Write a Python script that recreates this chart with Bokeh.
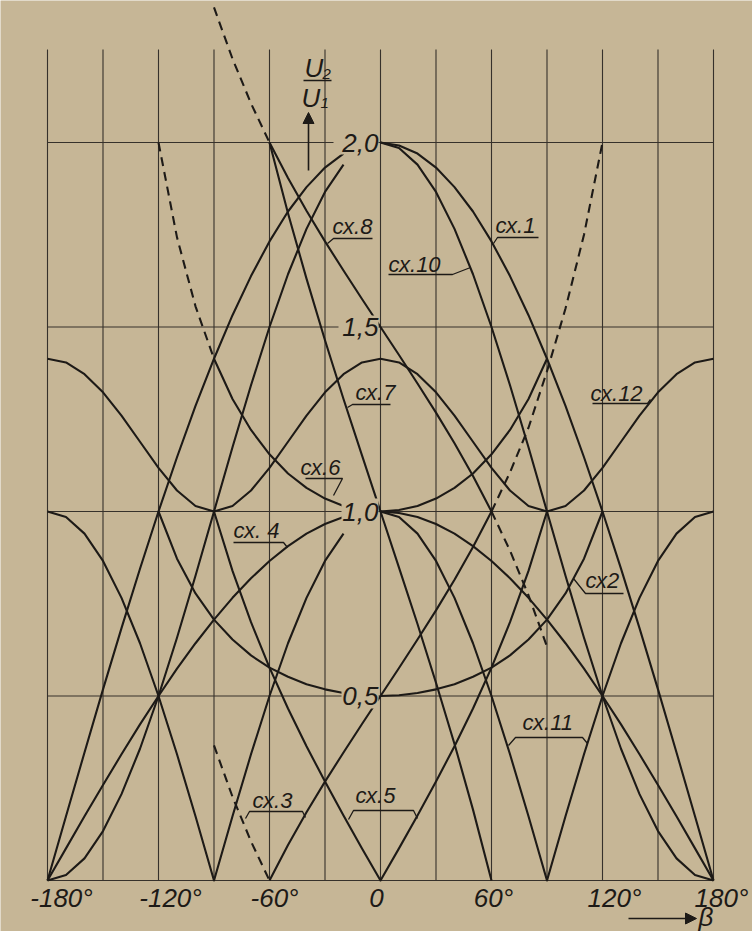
from bokeh.plotting import figure
from bokeh.models import Range1d, Label, Arrow, NormalHead
from bokeh.embed import file_html
from bokeh.resources import INLINE

# ---------------- data ----------------
GRID_BETA = [-180, -150, -120, -90, -60, -30, 0, 30, 60, 90, 120, 150, 180]
GRID_U = [0.0, 0.5, 1.0, 1.5, 2.0]
GRID_TOP = 2.252
XTICKS = [-180, -120, -60, 0, 60, 120, 180]
XTICK_LABELS = ["-180°", "-120°", "-60°", "0", "60°", "120°", "180°"]
YTICKS = [0.5, 1.0, 1.5, 2.0]
YTICK_LABELS = ["0,5", "1,0", "1,5", "2,0"]

B_L = [-180, -170, -160, -150, -140, -130, -120, -110, -100, -90, -80, -70, -60, -50, -40, -30, -20]
B_R = [0, 10, 20, 30, 40, 50, 60, 70, 80, 90, 100, 110, 120, 130, 140, 150, 160, 170, 180]
B_FULL = B_L + [-10] + B_R

# сх.1
CX1_L = [0.000, 0.174, 0.347, 0.518, 0.684, 0.845, 1.000, 1.147, 1.286, 1.414, 1.532, 1.638, 1.732, 1.813, 1.879, 1.932, 1.970]
CX1_R = [2.000, 1.992, 1.970, 1.932, 1.879, 1.813, 1.732, 1.638, 1.532, 1.414, 1.286, 1.147, 1.000, 0.845, 0.684, 0.518, 0.347, 0.174, 0.000]
# сх.10
CX10_L = [0.000, 0.015, 0.060, 0.134, 0.234, 0.357, 0.500, 0.658, 0.826, 1.000, 1.174, 1.342, 1.500, 1.643, 1.766, 1.866, 1.940]
CX10_R = [2.000, 1.985, 1.940, 1.866, 1.766, 1.643, 1.500, 1.342, 1.174, 1.000, 0.826, 0.658, 0.500, 0.357, 0.234, 0.134, 0.060, 0.015, 0.000]
# сх.12
CX12 = [1.414, 1.404, 1.372, 1.323, 1.260, 1.189, 1.118, 1.057, 1.015, 1.000, 1.015, 1.057, 1.118, 1.189, 1.260, 1.323, 1.372, 1.404,
        1.414, 1.404, 1.372, 1.323, 1.260, 1.189, 1.118, 1.057, 1.015, 1.000, 1.015, 1.057, 1.118, 1.189, 1.260, 1.323, 1.372, 1.404, 1.414]
# сх.11
CX11_L = [1.000, 0.985, 0.940, 0.866, 0.766, 0.643, 0.500, 0.342, 0.174, 0.000, 0.174, 0.342, 0.500, 0.643, 0.766, 0.866, 0.940]
CX11_R = [1.000, 0.985, 0.940, 0.866, 0.766, 0.643, 0.500, 0.342, 0.174, 0.000, 0.174, 0.342, 0.500, 0.643, 0.766, 0.866, 0.940, 0.985, 1.000]
# сх.4
CX4_L = [0.000, 0.087, 0.174, 0.259, 0.342, 0.423, 0.500, 0.574, 0.643, 0.707, 0.766, 0.819, 0.866, 0.906, 0.940, 0.966, 0.985]
CX4_R = [1.000, 0.996, 0.985, 0.966, 0.940, 0.906, 0.866, 0.819, 0.766, 0.707, 0.643, 0.574, 0.500, 0.423, 0.342, 0.259, 0.174, 0.087, 0.000]
# сх.6
B6_L = [-90, -80, -70, -60, -50, -40, -30, -20]
CX6_L = [1.414, 1.305, 1.221, 1.155, 1.103, 1.064, 1.035, 1.015]
B6_R = [0, 10, 20, 30, 40, 50, 60, 70, 80, 90]
CX6_R = [1.000, 1.004, 1.015, 1.035, 1.064, 1.103, 1.155, 1.221, 1.305, 1.414]
B6_D = [-120, -110, -100, -90]
CX6_D = [2.000, 1.743, 1.556, 1.414]
# сх.2
B2_L = [-120, -110, -100, -90, -80, -70, -60, -50, -40, -30, -20]
CX2_L = [1.000, 0.872, 0.778, 0.707, 0.653, 0.610, 0.577, 0.552, 0.532, 0.518, 0.508]
B2_R = [0, 10, 20, 30, 40, 50, 60, 70, 80, 90, 100, 110, 120]
CX2_R = [0.500, 0.502, 0.508, 0.518, 0.532, 0.552, 0.577, 0.610, 0.653, 0.707, 0.778, 0.872, 1.000]
# сх.5
B5 = [-90, -80, -70, -60, -50, -40, -30, -20, -10, 0, 10, 20, 30, 40, 50, 60, 70, 80, 90]
CX5 = [1.000, 0.839, 0.700, 0.577, 0.466, 0.364, 0.268, 0.176, 0.087, 0.000, 0.087, 0.176, 0.268, 0.364, 0.466, 0.577, 0.700, 0.839, 1.000]
# сх.3, сх.7, сх.8
B_MID = [-60, -50, -40, -30, -20, -10, 0, 10, 20, 30, 40, 50, 60]
CX3 = [0.000, 0.096, 0.185, 0.268, 0.347, 0.424, 0.500, 0.576, 0.653, 0.732, 0.815, 0.904, 1.000]
B3_DL = [-90, -80, -70, -60]
CX3_DL = [0.366, 0.227, 0.106, 0.000]
B3_DR = [60, 70, 80, 90, 100, 110, 120]
CX3_DR = [1.000, 1.106, 1.227, 1.380, 1.550, 1.750, 2.000]
CX7 = [2.000, 1.808, 1.631, 1.464, 1.305, 1.152, 1.000, 0.848, 0.695, 0.536, 0.370, 0.192, 0.000]
CX8 = [2.000, 1.904, 1.815, 1.732, 1.653, 1.576, 1.500, 1.424, 1.347, 1.268, 1.185, 1.096, 1.000]
B8_DL = [-90, -80, -70, -60]
CX8_DL = [2.366, 2.227, 2.106, 2.000]
B8_DR = [60, 70, 80, 90]
CX8_DR = [1.000, 0.894, 0.773, 0.634]

# ---------------- layout / style ----------------
PAPER = "#c6b696"
INK = "#1d1a17"
GRID_INK = "#36312b"
W, H = 752, 931
PXD = 1.85      # px per degree
PXU = 369.0     # px per unit
X0 = -180 - 47 / PXD
X1 = X0 + W / PXD
Y1 = 880 / PXU
Y0 = Y1 - H / PXU


def bx(xp):   # page pixel -> beta
    return X0 + xp / PXD


def uy(yp):   # page pixel -> U
    return Y1 - yp / PXU


p = figure(width=W, height=H, x_range=Range1d(X0, X1), y_range=Range1d(Y0, Y1),
           output_backend="svg", toolbar_location=None,
           x_axis_location=None, y_axis_location=None, min_border=0)
p.grid.visible = False
p.outline_line_color = None
p.background_fill_color = PAPER
p.border_fill_color = PAPER

# grid
p.segment(x0=GRID_BETA, y0=[0] * len(GRID_BETA), x1=GRID_BETA, y1=[GRID_TOP] * len(GRID_BETA),
          line_color=GRID_INK, line_width=1.1)
p.segment(x0=[-180] * len(GRID_U), y0=GRID_U, x1=[180] * len(GRID_U), y1=GRID_U,
          line_color=GRID_INK, line_width=1.1)

solid = [
    (B_L, CX1_L), (B_R, CX1_R), (B_L, CX10_L), (B_R, CX10_R),
    (B_FULL, CX12), (B_L, CX11_L), (B_R, CX11_R), (B_L, CX4_L), (B_R, CX4_R),
    (B6_L, CX6_L), (B6_R, CX6_R), (B2_L, CX2_L), (B2_R, CX2_R), (B5, CX5),
    (B_MID, CX3), (B_MID, CX7), (B_MID, CX8),
]
dashed = [(B6_D, CX6_D), (B3_DL, CX3_DL), (B3_DR, CX3_DR), (B8_DL, CX8_DL), (B8_DR, CX8_DR)]

for xs, ys in solid:
    p.line(xs, ys, line_color=INK, line_width=2.1, line_join="round")
for xs, ys in dashed:
    p.line(xs, ys, line_color=INK, line_width=2.1, line_dash="9 6")

# gaps for the value labels on the U axis (page pixels)
gaps = [(333, 378, 130, 154), (338, 378, 315, 339), (341, 378, 498, 522), (341, 378, 684, 708)]
p.quad(left=[bx(g[0]) for g in gaps], right=[bx(g[1]) for g in gaps],
       top=[uy(g[2]) for g in gaps], bottom=[uy(g[3]) for g in gaps],
       fill_color=PAPER, line_color=None)

FONT = "Liberation Sans"


def txt(t, xp, yp, size, align="left"):
    p.add_layout(Label(x=bx(xp), y=uy(yp), text=t, text_align=align, text_baseline="middle",
                       text_font=FONT, text_font_style="italic", text_font_size=size, text_color=INK))


for v, t in zip(YTICKS, YTICK_LABELS):
    p.add_layout(Label(x=bx(378), y=v, text=t, text_align="right", text_baseline="middle",
                       text_font=FONT, text_font_style="italic", text_font_size="26px", text_color=INK))

XSHIFT = [14, 12, 5, -4, 2, 12, 8]
for v, t, s in zip(XTICKS, XTICK_LABELS, XSHIFT):
    p.add_layout(Label(x=v + s / PXD, y=uy(897), text=t, text_align="center", text_baseline="middle",
                       text_font=FONT, text_font_style="italic", text_font_size="26px", text_color=INK))

# scheme labels and leaders (page pixels)
labels = [
    ("сх.1", 495, 225, [(538, 237), (497, 237), (493, 243)]),
    ("сх.10", 388, 264, [(388, 274), (452, 274), (470, 267)]),
    ("сх.8", 332, 226, [(372, 238), (333, 238), (327, 243)]),
    ("сх.7", 355, 392, [(390, 404), (352, 404), (347, 407)]),
    ("сх.6", 300, 467, [(305, 478), (342, 478), (333, 495)]),
    ("сх. 4", 233, 530, [(233, 542), (283, 542), (287, 547)]),
    ("сх.12", 590, 393, [(592, 403), (647, 403), (650, 399)]),
    ("сх2", 585, 580, [(623, 593), (585, 593), (573, 578)]),
    ("сх.11", 522, 722, [(508, 745), (515, 737), (582, 737), (587, 743)]),
    ("сх.3", 252, 800, [(245, 818), (249, 811), (302, 811), (305, 817)]),
    ("сх.5", 355, 795, [(348, 819), (353, 810), (413, 810), (417, 818)]),
]
for t, lx, ly, pts in labels:
    txt(t, lx, ly, "22px")
    p.line([bx(a) for a, b in pts], [uy(b) for a, b in pts], line_color=INK, line_width=1.3)

# U2/U1 fraction and arrow
txt("U", 304, 67, "26px")
txt("2", 322, 73, "15px")
txt("U", 301, 97, "26px")
txt("1", 320, 102, "15px")
p.line([bx(303), bx(331)], [uy(80), uy(80)], line_color=INK, line_width=1.6)
p.add_layout(Arrow(end=NormalHead(size=11, fill_color=INK, line_color=INK),
                   x_start=bx(308), y_start=uy(170), x_end=bx(308), y_end=uy(112),
                   line_color=INK, line_width=1.6))

# beta arrow
p.add_layout(Arrow(end=NormalHead(size=11, fill_color=INK, line_color=INK),
                   x_start=bx(628), y_start=uy(918), x_end=bx(696), y_end=uy(918),
                   line_color=INK, line_width=1.6))
txt("β", 698, 916, "26px")

open("out.html", "w").write(file_html(p, INLINE))
